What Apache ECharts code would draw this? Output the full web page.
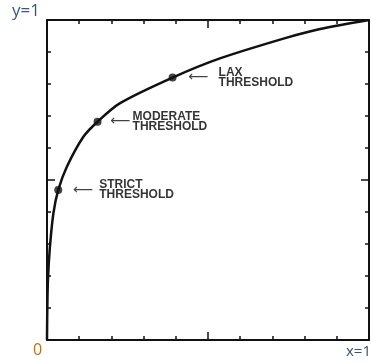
<!DOCTYPE html>
<html>
<head>
<meta charset="utf-8">
<script src="https://cdn.jsdelivr.net/npm/echarts@6/dist/echarts.min.js"></script>
<style>html,body{margin:0;padding:0;background:#fff}#c{width:371px;height:363px}</style>
</head>
<body>
<div id="c"></div>
<script>
// Curve (ROC-like)
var curveX = [0, 0.001, 0.003, 0.009, 0.02, 0.035, 0.061, 0.113, 0.157, 0.227, 0.39, 0.537, 0.745, 0.848, 1];
var curveY = [0, 0.10, 0.19, 0.29, 0.397, 0.469, 0.54, 0.635, 0.682, 0.74, 0.82, 0.88, 0.945, 0.972, 1];
// Threshold points
var thresholdNames = ['STRICT', 'MODERATE', 'LAX'];
var thresholdX = [0.035, 0.157, 0.39];
var thresholdY = [0.469, 0.682, 0.82];

var chart = echarts.init(document.getElementById('c'), null, {renderer: 'canvas'});

var curveData = curveX.map(function (x, i) { return [x, curveY[i]]; });
var textOffsets = [32, 26, 37];
var arrowOffsets = [10, 8, 11];
var ptData = thresholdX.map(function (x, i) {
  return {value: [x, thresholdY[i]], name: thresholdNames[i],
    label: {offset: [textOffsets[i], 0]}};
});
var arrowData = thresholdX.map(function (x, i) {
  return {value: [x, thresholdY[i]], label: {offset: [arrowOffsets[i], 0]}};
});

function axisCfg(pos) {
  return {
    type: 'value', position: pos, min: 0, max: 1, interval: 0.5,
    axisLine: {show: true, onZero: false, lineStyle: {color: '#111', width: 2}},
    axisTick: {show: true, inside: true, length: 8, lineStyle: {color: '#111', width: 1.5}},
    minorTick: {show: true, splitNumber: 5, length: 4, lineStyle: {color: '#111', width: 1.5}},
    axisLabel: {show: false},
    splitLine: {show: false},
    minorSplitLine: {show: false}
  };
}

var option = {
  backgroundColor: '#fff',
  animation: false,
  grid: {left: 47, right: 2, top: 20, bottom: 23},
  xAxis: [axisCfg('bottom'), axisCfg('top')],
  yAxis: [axisCfg('left'), axisCfg('right')],
  series: [
    {type: 'line', data: curveData, smooth: 0.3, showSymbol: false,
     lineStyle: {color: '#111', width: 2.5}},
    {type: 'scatter', data: ptData, symbolSize: 8, itemStyle: {color: '#111'},
     label: {show: true, position: 'right', align: 'left', verticalAlign: 'middle',
       formatter: function (p) { return p.name + '\nTHRESHOLD'; },
       fontFamily: 'Liberation Sans', fontWeight: 'bold', fontSize: 12, lineHeight: 10, color: '#000'}},
    {type: 'scatter', data: arrowData, symbolSize: 0,
     label: {show: true, position: 'right', formatter: '\u27F5', fontFamily: 'DejaVu Sans',
       fontSize: 14, color: '#111', verticalAlign: 'middle'}}
  ],
  graphic: [
    {type: 'text', left: 12, top: 3, style: {text: 'y=1', fontFamily: 'Open Sans', fontSize: 17, fill: '#35578a'}},
    {type: 'text', left: 33, top: 342, style: {text: '0', fontFamily: 'Open Sans', fontSize: 16, fill: '#b8721e'}},
    {type: 'text', left: 346, top: 344, style: {text: 'x=1', fontFamily: 'Open Sans', fontSize: 15, fill: '#3a4f75'}}
  ]
};
chart.setOption(option);
</script>
</body>
</html>
